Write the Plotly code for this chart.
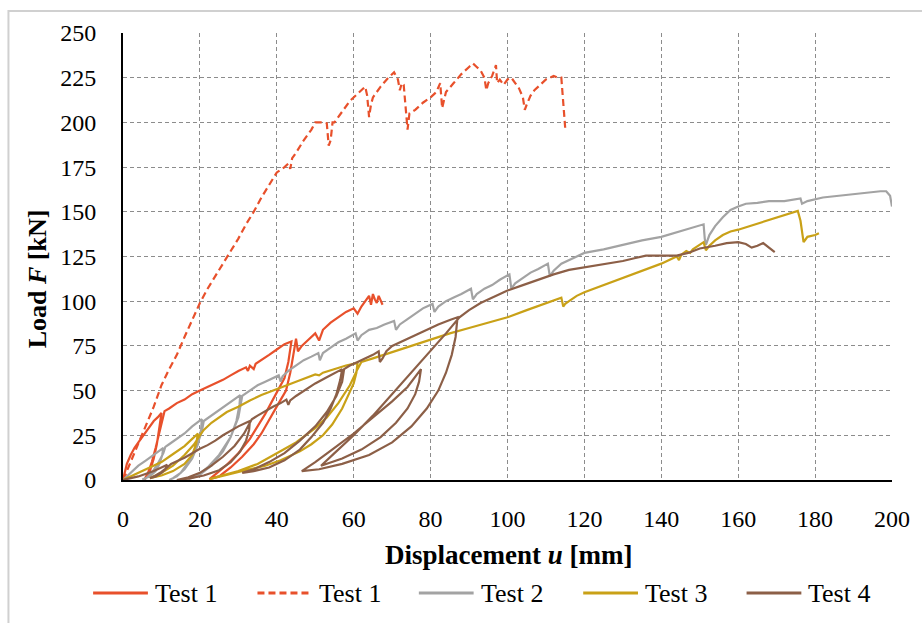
import plotly.graph_objects as go

# ---------------- data ----------------
t1_x = [0, 0.5, 1, 2, 3, 4, 5, 6, 7, 8, 9, 10,
        9.5, 8.8, 8, 7, 6, 5.5,
        6.5, 7.5, 8.5, 9.5, 10.3, 10.8,
        12, 14, 16, 18, 20, 22, 24, 26, 28, 30, 32, 32.5, 33, 34, 34.5, 36, 38, 40, 42, 43.8,
        43, 42, 40, 37, 35, 33, 30, 27, 24.5, 22.5,
        25, 28, 31, 34, 36, 38.5, 40.5, 42.4, 43.5, 44.3, 45,
        45.5, 46.5, 48, 50, 51, 52, 54, 56, 58, 60, 61, 62, 63, 64, 64.5, 65, 65.5, 66, 66.5, 67, 67.5]
t1_y = [0, 5, 9, 14, 18, 21, 24, 27, 30, 33, 35, 37.5,
        30, 20, 12, 5, 1.5, 0,
        4, 10, 18, 27, 35, 38.5,
        40, 43, 45, 48, 50, 52, 54, 56, 58.5, 61, 63, 61, 64, 62, 65, 67, 70, 73, 76, 77.5,
        66, 57, 49, 37, 30, 23, 15, 8.5, 4, 0.5,
        2, 7, 13, 20, 26, 35, 43, 50, 60, 70, 79,
        72, 75, 78, 82, 78, 84, 88, 91, 94, 96, 93, 97, 100, 103, 98, 104, 101, 99, 103, 100, 98]

t1d_x = [0, 0.5, 1, 2, 3, 4, 5, 6, 7, 8, 9, 10, 12, 14, 16, 18, 20, 22, 24, 26, 28, 30, 32, 34, 36, 38,
         40, 42, 43, 43.5, 44, 45, 47, 49, 50, 51, 52, 53, 53.5, 54, 54.5, 55, 57, 59, 61, 63, 63.5,
         64, 64.5, 65, 67, 69, 70.5, 71.5, 72, 72.5, 73, 73.5, 74, 74.5, 76, 78, 80, 81.5, 82, 82.5,
         83, 83.5, 84, 86, 88, 90, 91, 92, 93, 94, 94.5, 95, 96, 97, 97.3, 98, 99, 100, 101, 102, 103,
         104, 104.5, 105, 106, 107, 108, 109, 110, 112, 113, 114, 114.3, 114.6, 115]
t1d_y = [0, 2, 5, 10, 15, 20, 25, 30, 35, 41, 47, 53, 62, 70, 80, 90, 99, 107, 114, 121, 128, 135, 143,
         150, 158, 165, 172, 175, 177, 174, 180, 183, 190, 196, 200, 200, 200, 199.5, 187, 190, 200,
         200, 206, 212, 216, 220, 215, 203, 210, 214, 220, 225, 228, 224, 218, 222, 221, 210, 196,
         205, 207, 211, 214, 217, 220, 222, 208, 212, 217, 222, 227, 231, 233, 231, 229, 225, 218,
         222, 226, 232, 222, 224, 221, 224, 225, 222, 219, 214, 207, 210, 215, 218, 220, 222, 224,
         226, 225, 225, 215, 205, 197]

t2_x = [0, 1, 2, 3, 4, 6, 8, 10, 10.5,
        10.2, 9.5, 8.5, 7, 5,
        6, 7.5, 9, 10.5, 11,
        12, 14, 16, 18, 20, 20.5,
        20.3, 19.5, 18, 16, 14, 12,
        13, 15, 17, 19, 20.5, 21,
        23, 25, 27, 29, 30.5,
        30.3, 29.5, 28, 26, 23, 20, 17,
        19, 22, 25, 28, 30, 31,
        33, 35, 37, 39, 40.5, 41, 41.5, 43, 45, 47, 49, 50.8, 51.2, 52, 54, 56, 58, 60.5, 61, 62,
        64, 66, 68, 70.5, 71, 72, 74, 76, 78, 80.5, 81, 82, 84, 86, 88, 90.5, 91, 92, 94, 96, 98,
        100.5, 101, 102, 104, 106, 108, 110.5, 111, 112, 114, 116, 118, 120, 125, 130, 135, 140,
        145, 150, 151, 151.3, 151.6, 152.5, 154, 156, 158, 160, 162, 165, 168, 172, 175, 176.2,
        176.6, 178, 182, 186, 190, 194, 197, 198.5, 199.5, 200]
t2_y = [0, 2, 4, 6, 8, 11, 14, 17, 18,
        14, 9, 5, 2, 0.3,
        1, 4, 9, 15, 18.5,
        20, 23, 26, 30, 33, 34,
        28, 20, 12, 6, 2, 0,
        1, 4, 10, 18, 27, 33,
        36, 39, 42, 45, 47.5,
        42, 33, 24, 16, 8, 3, 0.5,
        2, 7, 14, 24, 35, 47,
        50, 53, 55, 57, 58.5, 55, 58, 61, 64, 67, 69, 71, 67, 71, 74, 77, 79, 82, 78, 81,
        84, 85, 87, 89, 84, 87, 90, 93, 96, 98.5, 94, 97, 100, 102, 104, 107, 101, 104, 107, 109,
        112, 115, 107, 110, 113, 116, 118, 121, 114, 117, 121, 123, 125, 127, 129, 131.5, 134, 136,
        139, 142, 143, 135, 131.5, 137, 142, 147, 151, 153, 154.5, 155, 156, 156, 157, 157.5,
        154.5, 156, 158, 159, 160, 161, 161.5, 161.5, 159, 153]

t3_x = [0, 2, 4, 6, 8, 10, 12, 14, 16, 18, 19.5,
        19, 18, 16, 13, 10, 7,
        10, 13, 16, 18.5, 20, 21,
        23, 25, 27, 30, 33, 36, 40, 45, 50, 51, 52, 55, 58, 61,
        60.7, 60, 58.8, 57, 54.4, 52, 49, 46, 41, 37, 33, 28, 24, 22.5,
        25, 30, 35, 40, 45, 50, 53, 56, 59, 61, 62,
        65, 70, 75, 80, 85, 90, 95, 100, 105, 110, 114, 114.5, 115, 116, 118, 120, 125, 130,
        135, 140, 144, 144.6, 145.2, 146.5, 147.5, 148.2, 151, 151.6, 152.5, 154, 156, 158, 160,
        163, 166, 170, 173, 175.5, 176.2, 176.7, 177, 177.5, 178, 180, 181]
t3_y = [0, 2, 4, 6, 8, 10, 13, 16, 19, 23, 26,
        20, 14, 9, 5, 2.5, 1,
        4, 8, 14, 20, 25, 28,
        32, 35, 38, 41, 44.5, 47.5, 51, 55, 59, 58.5, 60, 62, 64, 65.5,
        60, 54, 48, 40, 31, 25, 20, 16, 11, 8, 6, 3.5, 1.5, 0.5,
        2, 5, 9, 15, 21, 29, 35, 43, 53, 62, 66,
        68, 71.5, 75, 78.5, 82, 85, 88, 91, 95, 99, 102, 97, 98.5, 100, 103, 105, 109, 113,
        117, 121, 125, 123, 126, 128, 127, 129, 133, 128.5, 131, 134, 137, 139, 140,
        142, 144, 147, 149, 150.5, 145, 137, 133, 134.5, 136, 137, 138]

t4_x = [0, 2, 4, 6, 8, 10, 11.5,
        11, 10, 8.5, 7,
        8.5, 10, 11.5, 12.5,
        14, 16, 18, 20, 22, 24, 26, 28, 30, 32, 33,
        32.8, 32, 30.5, 28, 25, 21, 17, 14,
        17, 20, 23, 26, 29, 31.5, 33, 33.5,
        35, 37, 39, 41, 42.5, 43, 43.5, 45, 47, 50, 53, 56, 57,
        56.5, 55.5, 54, 52, 49, 46, 42, 38, 34, 31,
        34, 38, 42, 46, 50, 53, 55.5, 57, 57.5,
        59, 61, 63, 65, 66.5, 66.8, 67.5, 68.5, 70, 73, 76, 79, 82, 85, 87,
        86.5, 85.5, 84, 82, 79, 75, 70, 64, 57, 51, 46.5,
        50, 55, 60, 65, 70, 74, 77.5,
        77, 76, 74, 71, 67, 62, 57, 51.5,
        55, 60, 65, 70, 75, 80, 84, 87.5,
        90, 93, 96, 100, 104, 108, 112, 116, 120, 125, 130, 133, 136, 140, 144, 147, 150, 154,
        157, 160, 162, 163.5, 165, 166.5, 168, 169.5]
t4_y = [0, 1, 2, 3.5, 5, 7, 8.5,
        6, 4, 2, 1,
        2.5, 4.5, 7, 9,
        10.5, 12.5, 15, 17.5, 19.5, 22, 25, 27.5, 30, 32, 33,
        28, 22, 16, 10, 5.5, 2.5, 0.8, 0,
        1.5, 4, 8, 13, 19, 26, 32, 34,
        36, 38.5, 41, 43, 45, 42, 44.5, 47, 50, 54, 57.5, 61, 62,
        56, 48, 40, 32, 24, 17, 11, 7, 5, 4,
        6, 10, 15, 22, 30, 38, 47, 55, 62,
        64, 66, 68, 70, 72, 66, 68, 72, 75, 78, 81, 84, 87, 89.5, 91,
        80, 70, 60, 50, 40, 30, 21, 14, 9, 6, 5,
        10, 18, 26, 35, 44, 52, 62,
        55, 48, 40, 32, 24, 17, 12, 8,
        15, 25, 36, 48, 60, 72, 82, 91,
        95, 99, 102, 106, 109, 112, 115, 117.5, 119, 120.5, 122.5, 124, 125.5, 125.5, 125.5,
        127, 129.5, 131, 132.5, 133, 132, 130, 131, 132.5, 130, 127.5]

series_names = ["Test 1", "Test 1", "Test 2", "Test 3", "Test 4"]
series_x = [t1_x, t1d_x, t2_x, t3_x, t4_x]
series_y = [t1_y, t1d_y, t2_y, t3_y, t4_y]
series_colors = ["#E8502B", "#E8502B", "#A3A3A3", "#C9A117", "#8C5F47"]
series_dash = ["solid", "7px,4px", "solid", "solid", "solid"]

x_ticks = [0, 20, 40, 60, 80, 100, 120, 140, 160, 180, 200]
y_ticks = [0, 25, 50, 75, 100, 125, 150, 175, 200, 225, 250]

# ---------------- figure ----------------
W, H = 922, 623
L, R, T, B = 123, 27, 33, 143
PW, PH = W - L - R, H - T - B


def px(xp):
    return (xp - L) / PW


def py(yp):
    return (H - B - yp) / PH


FONT = "Liberation Serif"

fig = go.Figure()
for name, xs, ys, c, d in zip(series_names, series_x, series_y, series_colors, series_dash):
    fig.add_trace(go.Scatter(x=xs, y=ys, mode="lines", name=name, showlegend=False,
                             line=dict(color=c, width=2.2, dash=d)))

fig.update_layout(
    width=W, height=H,
    margin=dict(l=L, r=R, t=T, b=B, pad=0),
    paper_bgcolor="white", plot_bgcolor="white",
    font=dict(family=FONT, size=24, color="black"),
)
fig.update_xaxes(range=[0, 200], tickvals=x_ticks, ticktext=[str(v) for v in x_ticks],
                 showgrid=True, gridcolor="#8c8c8c", gridwidth=1, griddash="4px,3px",
                 showline=True, linecolor="black", linewidth=2, zeroline=False,
                 ticks="", ticklabelstandoff=16, tickfont=dict(family=FONT, size=24))
fig.update_yaxes(range=[0, 250], tickvals=y_ticks, ticktext=[str(v) for v in y_ticks],
                 showgrid=True, gridcolor="#8c8c8c", gridwidth=1, griddash="4px,3px",
                 showline=True, linecolor="black", linewidth=2, zeroline=False,
                 ticks="", ticklabelstandoff=20, tickfont=dict(family=FONT, size=24))

shapes = []
annotations = []
# axis titles
annotations.append(dict(x=px(510), y=py(555), xref="paper", yref="paper",
                        text="<b>Displacement <i>u</i> [mm]</b>", showarrow=False,
                        font=dict(family=FONT, size=27), xanchor="center", yanchor="middle"))
annotations.append(dict(x=px(37), y=py(279), xref="paper", yref="paper",
                        text="<b>Load <i>F</i> [kN]</b>", showarrow=False, textangle=-90,
                        font=dict(family=FONT, size=26), xanchor="center", yanchor="middle"))

# custom legend
leg_line = [(93, 148), (258, 313), (420, 475), (585, 640), (749, 804)]
leg_y = 593
for (a, b), name, c, d in zip(leg_line, series_names, series_colors, series_dash):
    shapes.append(dict(type="line", xref="paper", yref="paper", x0=px(a), x1=px(b),
                       y0=py(leg_y), y1=py(leg_y), line=dict(color=c, width=3, dash=d)))
    annotations.append(dict(x=px(b + 5), y=py(leg_y), xref="paper", yref="paper", text=name,
                            showarrow=False, xanchor="left", yanchor="middle",
                            font=dict(family=FONT, size=26)))

# outer frame
shapes.append(dict(type="rect", xref="paper", yref="paper", x0=px(8), x1=px(930),
                   y0=py(640), y1=py(11), line=dict(color="#d0d0d0", width=2),
                   fillcolor="rgba(0,0,0,0)", layer="below"))

fig.update_layout(shapes=shapes, annotations=annotations)
fig.write_html("out.html")
